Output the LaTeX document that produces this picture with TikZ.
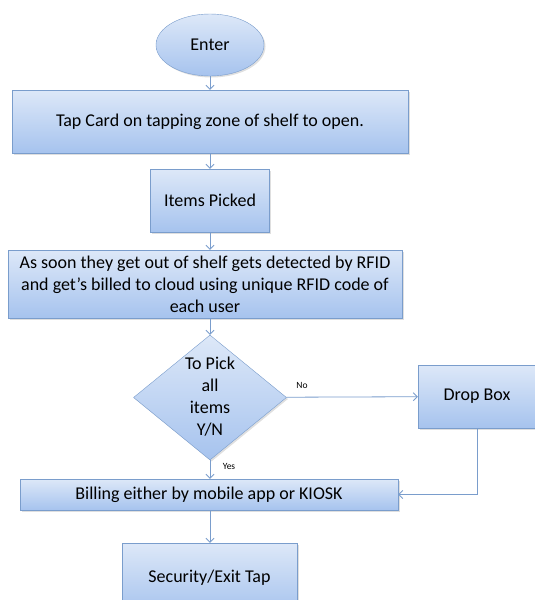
\documentclass[tikz,border=0pt]{standalone}
\usepackage{fontspec}
\setmainfont{Carlito}
\usetikzlibrary{shapes.geometric,arrows.meta,shadows}
\definecolor{boxline}{RGB}{122,157,204}
\definecolor{boxtop}{RGB}{221,232,248}
\definecolor{boxbot}{RGB}{166,195,238}
\tikzset{
  box/.style={draw=boxline,top color=boxtop,bottom color=boxbot,
    drop shadow={opacity=0.25,shadow xshift=1.5pt,shadow yshift=-1.5pt},
    inner sep=0pt,align=center,font=\fontsize{18}{22}\selectfont},
  startnode/.style={box,ellipse},
  decision/.style={box,diamond},
  boxtext/.style={align=center,font=\fontsize{18}{22}\selectfont},
  flow/.style={draw=boxline,thick,-{Straight Barb[length=4pt,width=8pt]}},
  small/.style={font=\fontsize{9.5}{10}\selectfont}
}
\begin{document}
\begin{tikzpicture}[x=1pt,y=-1pt]
\useasboundingbox (0,0) rectangle (535,600);
\node[startnode,minimum width=108pt,minimum height=62pt] (enter) at (210,45) {Enter};
\node[box,minimum width=396pt,minimum height=63pt] (tapcard) at (210,121.5) {Tap Card on tapping zone of shelf to open.};
\node[box,minimum width=119pt,minimum height=63pt] (picked) at (210,200.5) {Items Picked};
\node[box,minimum width=394pt,minimum height=68pt] (rfid) at (205,284) {As soon they get out of shelf gets detected by RFID\\and get’s billed to cloud using unique RFID code of\\each user};
\node[decision,minimum width=153pt,minimum height=125pt] (pickall) at (210,397.5) {};
\node[boxtext] (pickalltxt) at (210,397) {To Pick\\all\\items\\Y/N};
\node[box,minimum width=118pt,minimum height=63pt] (dropbox) at (477,396.5) {Drop Box};
\node[box,minimum width=378pt,minimum height=31pt] (billing) at (209,494.5) {Billing either by mobile app or KIOSK};
\node[box,minimum width=175pt,minimum height=70pt] (exitp) at (209.5,578) {Security/Exit Tap};
\node[small] (nolbl) at (302,385) {No};
\node[small] (yeslbl) at (229,466) {Yes};
\coordinate (turn) at (dropbox.south |- billing.east);
\draw[flow] (enter) -- (enter.south |- tapcard.north);
\draw[flow] (enter.south |- tapcard.south) -- (picked);
\draw[flow] (picked) -- (picked.south |- rfid.north);
\draw[flow] (picked.south |- rfid.south) -- (pickall);
\draw[flow] (pickall) -- (dropbox);
\draw[flow] (pickall) -- (pickall.south |- billing.north);
\draw[flow] (dropbox) -- (turn) -- (billing);
\draw[flow] (pickall.south |- billing.south) -- (pickall.south |- exitp.north);
\end{tikzpicture}
\end{document}
